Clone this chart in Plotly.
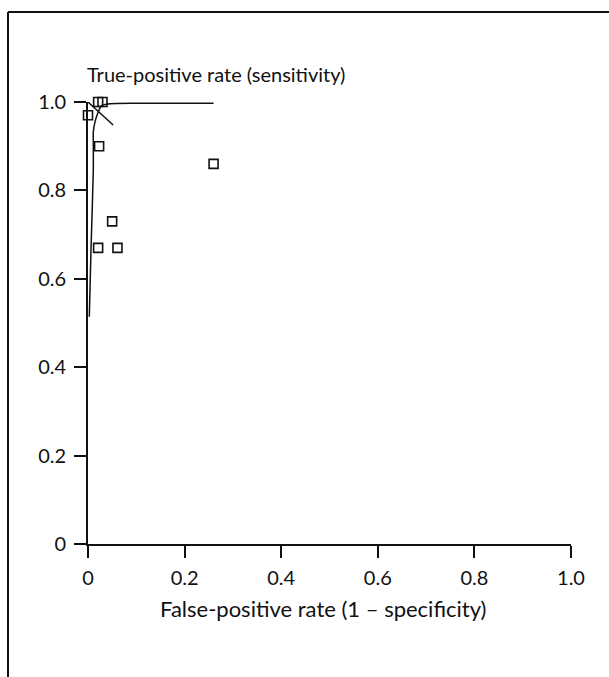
import plotly.graph_objects as go

# Summary ROC curve (false-positive rate vs. sensitivity)
curve_fpr = [0.0027, 0.0062, 0.011, 0.011, 0.011, 0.0145, 0.021, 0.028, 0.045, 0.10, 0.18, 0.26]
curve_tpr = [0.514, 0.665, 0.846, 0.909, 0.932, 0.955, 0.977, 0.992, 0.996, 0.997, 0.997, 0.997]

# Individual study estimates
study_fpr = [0.0, 0.021, 0.030, 0.023, 0.26, 0.050, 0.021, 0.061]
study_tpr = [0.97, 1.0, 1.0, 0.90, 0.86, 0.73, 0.67, 0.67]

# Short segment of the sensitivity = specificity line
qline_fpr = [0.0, 0.052]
qline_tpr = [1.0, 0.948]

tick_vals = [0, 0.2, 0.4, 0.6, 0.8, 1.0]
tick_text = ["0", "0.2", "0.4", "0.6", "0.8", "1.0"]

W, H = 609, 677
L, R, T, B = 88, 38, 102, 133
PW, PH = W - L - R, H - T - B


def px_x(p):
    return (p - L) / PW


def px_y(p):
    return (H - B - p) / PH


FONT = "Lato, 'Open Sans', sans-serif"
INK = "#111111"

fig = go.Figure()
fig.add_trace(go.Scatter(
    x=curve_fpr, y=curve_tpr, mode="lines",
    line=dict(color=INK, width=1.5, shape="spline", smoothing=0.6),
    cliponaxis=False, hoverinfo="skip", showlegend=False))
fig.add_trace(go.Scatter(
    x=qline_fpr, y=qline_tpr, mode="lines",
    line=dict(color=INK, width=1.5),
    cliponaxis=False, hoverinfo="skip", showlegend=False))
fig.add_trace(go.Scatter(
    x=study_fpr, y=study_tpr, mode="markers",
    marker=dict(symbol="square-open", size=9, color=INK, line=dict(width=1.6, color=INK)),
    cliponaxis=False, showlegend=False))

axis_common = dict(
    showgrid=False, zeroline=False, showline=True, linecolor=INK, linewidth=1.6,
    ticks="outside", ticklen=12, tickwidth=1.6, tickcolor=INK,
    tickvals=tick_vals, ticktext=tick_text,
    tickfont=dict(family=FONT, size=20, color=INK), fixedrange=True,
)
fig.update_xaxes(range=[0, 1.0], ticklabelstandoff=3, **axis_common)
fig.update_yaxes(range=[0, 1.0], ticklabelstandoff=4, **axis_common)

fig.add_annotation(
    text="True-positive rate (sensitivity)", xref="paper", yref="paper",
    x=px_x(85), y=px_y(74), xanchor="left", yanchor="middle", showarrow=False,
    font=dict(family=FONT, size=20, color=INK))
fig.add_annotation(
    text="False-positive rate (1 \u2013 specificity)", xref="paper", yref="paper",
    x=px_x(323), y=px_y(608), xanchor="center", yanchor="middle", showarrow=False,
    font=dict(family=FONT, size=22, color=INK))

# Outer frame: top and left edges
fig.add_shape(type="line", xref="paper", yref="paper",
              x0=px_x(8), y0=px_y(12), x1=px_x(612), y1=px_y(12),
              line=dict(color=INK, width=2))
fig.add_shape(type="line", xref="paper", yref="paper",
              x0=px_x(8), y0=px_y(12), x1=px_x(8), y1=px_y(680),
              line=dict(color=INK, width=2))

fig.update_layout(
    width=W, height=H, margin=dict(l=L, r=R, t=T, b=B, pad=0),
    paper_bgcolor="white", plot_bgcolor="white",
    font=dict(family=FONT, color=INK),
)

fig.write_html("out.html")
